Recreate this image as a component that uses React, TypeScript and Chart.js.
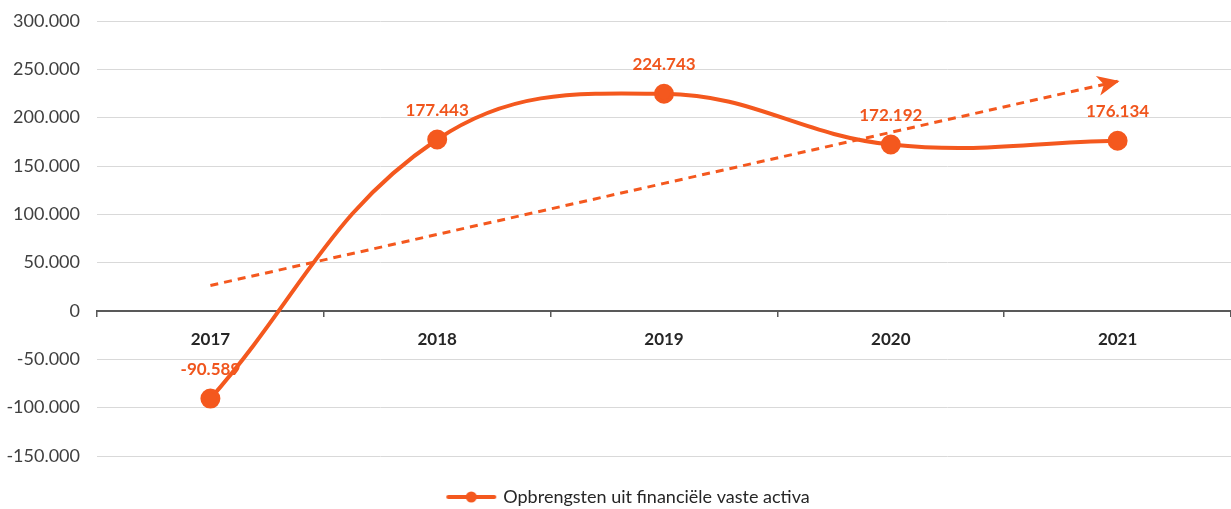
import React, { useEffect, useRef } from "react";
import { Chart, registerables } from "chart.js";

Chart.register(...registerables);

const years = ["2017", "2018", "2019", "2020", "2021"];
const revenue = [-90589, 177443, 224743, 172192, 176134];
const trend = [26400, 79200, 132000, 184800, 237600];
const yMin = -150000;
const yMax = 300000;
const yStep = 50000;
const seriesLabel = "Opbrengsten uit financiële vaste activa";

const ORANGE = "#F4581E";
const LABEL_ORANGE = "#F0561E";
const FONT = "Lato, 'Open Sans', sans-serif";

function fmt(v: number): string {
  const s = Math.abs(Math.round(v))
    .toString()
    .replace(/\B(?=(\d{3})+(?!\d))/g, ".");
  return (v < 0 ? "-" : "") + s;
}

const valueLabels = {
  id: "valueLabels",
  beforeDatasetsDraw(chart: any) {
    const meta = chart.getDatasetMeta(0);
    const ctx = chart.ctx;
    ctx.save();
    ctx.font = `bold 17px ${FONT}`;
    ctx.fillStyle = LABEL_ORANGE;
    ctx.textAlign = "center";
    ctx.textBaseline = "middle";
    meta.data.forEach((pt: any, i: number) => {
      ctx.fillText(fmt(revenue[i]), pt.x, pt.y - 29);
    });
    ctx.restore();
  },
};

const trendArrow = {
  id: "trendArrow",
  afterDatasetsDraw(chart: any) {
    const meta = chart.getDatasetMeta(1);
    const pts = meta.data;
    if (!pts || pts.length < 2) return;
    const a = pts[0];
    const b = pts[pts.length - 1];
    const ang = Math.atan2(b.y - a.y, b.x - a.x);
    const ctx = chart.ctx;
    ctx.save();
    ctx.translate(b.x, b.y);
    ctx.rotate(ang);
    ctx.fillStyle = ORANGE;
    ctx.beginPath();
    ctx.moveTo(2, 0);
    ctx.lineTo(-20, -10);
    ctx.lineTo(-14, 0);
    ctx.lineTo(-20, 10);
    ctx.closePath();
    ctx.fill();
    ctx.restore();
  },
};

const legendShift = {
  id: "legendShift",
  afterLayout(chart: any) {
    if (chart.legend) chart.legend.left += 27;
  },
};

function makeLegendIcon(): HTMLCanvasElement {
  const c = document.createElement("canvas");
  c.width = 52;
  c.height = 14;
  const g = c.getContext("2d")!;
  g.strokeStyle = ORANGE;
  g.lineWidth = 4;
  g.lineCap = "round";
  g.beginPath();
  g.moveTo(3, 7);
  g.lineTo(49, 7);
  g.stroke();
  g.fillStyle = ORANGE;
  g.beginPath();
  g.arc(26, 7, 5.5, 0, Math.PI * 2);
  g.fill();
  return c;
}

export default function App() {
  const ref = useRef<HTMLCanvasElement>(null);

  useEffect(() => {
    document.body.style.margin = "0";
    const icon = makeLegendIcon();
    const chart = new Chart(ref.current!, {
      type: "line",
      data: {
        labels: years,
        datasets: [
          {
            label: seriesLabel,
            data: revenue,
            borderColor: ORANGE,
            backgroundColor: ORANGE,
            borderWidth: 4,
            pointRadius: 8,
            pointBackgroundColor: ORANGE,
            pointBorderColor: ORANGE,
            tension: 0.4,
            order: 1,
          },
          {
            label: "trend",
            data: trend,
            borderColor: ORANGE,
            borderWidth: 3,
            borderDash: [8, 6],
            pointRadius: 0,
            tension: 0,
            order: 2,
          },
        ],
      },
      options: {
        animation: false,
        responsive: true,
        maintainAspectRatio: false,
        layout: { autoPadding: false, padding: { top: 21, right: 0, bottom: -7, left: 0 } },
        plugins: {
          tooltip: { enabled: false },
          legend: {
            position: "bottom",
            labels: {
              usePointStyle: true,
              pointStyle: icon as any,
              pointStyleWidth: 46,
              font: { family: FONT, size: 18 },
              color: "#262626",
              padding: 32,
              generateLabels: () => [
                {
                  text: seriesLabel,
                  pointStyle: icon,
                  datasetIndex: 0,
                  fillStyle: ORANGE,
                  strokeStyle: ORANGE,
                  lineWidth: 0,
                  fontColor: "#262626",
                } as any,
              ],
            },
          },
        },
        scales: {
          x: {
            type: "category",
            position: { y: 0 } as any,
            offset: true,
            afterFit: (s: any) => {
              s.height = 0;
              s.paddingLeft = 0;
              s.paddingRight = 0;
            },
            grid: {
              offset: true,
              drawOnChartArea: false,
              drawTicks: true,
              tickLength: 5,
              color: "#595959",
              lineWidth: 1.5,
            },
            border: { display: true, color: "#595959", width: 2 },
            ticks: {
              padding: 13,
              color: "#262626",
              font: { family: FONT, size: 17, weight: "bold" },
              maxRotation: 0,
            },
          },
          y: {
            min: yMin,
            max: yMax,
            afterFit: (s: any) => {
              s.width = 97;
              s.paddingTop = 0;
              s.paddingBottom = 0;
            },
            grid: {
              color: "#d9d9d9",
              lineWidth: 1,
              drawTicks: false,
            },
            border: { display: false },
            ticks: {
              stepSize: yStep,
              padding: 17,
              color: "#404040",
              font: { family: FONT, size: 18 },
              callback: (v: any) => fmt(Number(v)),
            },
          },
        },
      },
      plugins: [valueLabels, trendArrow, legendShift],
    });
    return () => chart.destroy();
  }, []);

  return (
    <div style={{ position: "absolute", left: 0, top: 0, width: 1231, height: 509 }}>
      <canvas ref={ref} />
    </div>
  );
}
